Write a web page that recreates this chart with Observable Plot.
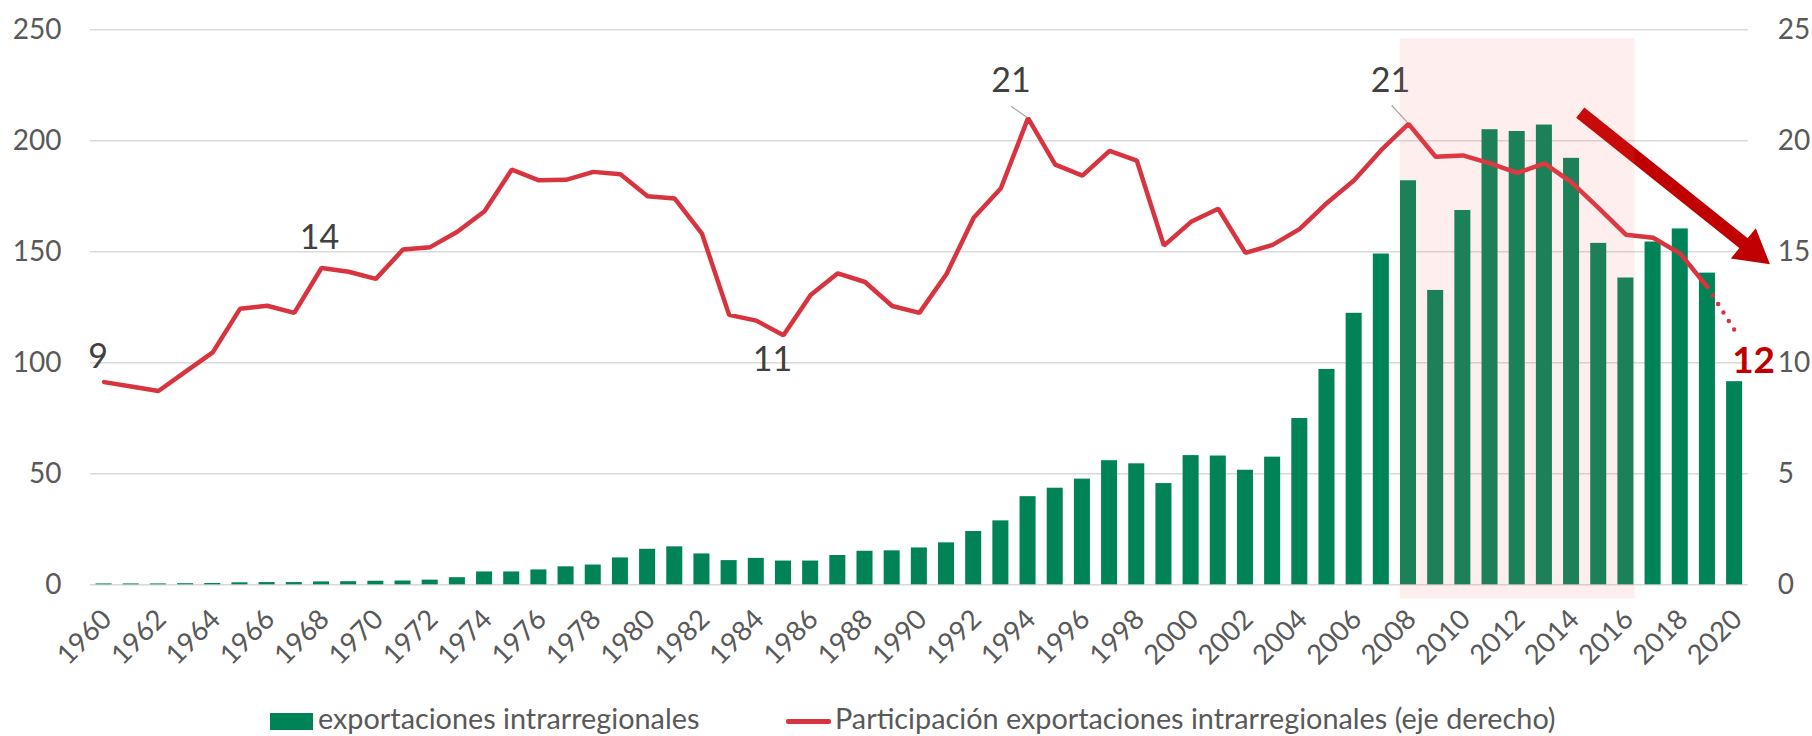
<!DOCTYPE html>
<html>
<head>
<meta charset="utf-8">
<script src="https://cdn.jsdelivr.net/npm/d3@7"></script>
<script src="https://cdn.jsdelivr.net/npm/@observablehq/plot@0.6"></script>
<style>
  html, body { margin: 0; padding: 0; background: #fff; }
  #wrap { position: relative; width: 1812px; height: 736px; overflow: hidden; font-family: Lato, "Open Sans", sans-serif; }
  .leg { position: absolute; display: flex; align-items: flex-start; height: 28px; line-height: 28px; font-size: 28.8px; color: #595959; white-space: nowrap; }
  .leg .sw { display: inline-block; flex: none; }
</style>
</head>
<body>
<div id="wrap"><div id="chart"></div></div>
<script>
// ---------- data ----------
const years = [1960,1961,1962,1963,1964,1965,1966,1967,1968,1969,
  1970,1971,1972,1973,1974,1975,1976,1977,1978,1979,
  1980,1981,1982,1983,1984,1985,1986,1987,1988,1989,
  1990,1991,1992,1993,1994,1995,1996,1997,1998,1999,
  2000,2001,2002,2003,2004,2005,2006,2007,2008,2009,
  2010,2011,2012,2013,2014,2015,2016,2017,2018,2019,2020];

// exportaciones intrarregionales (left axis)
const exportsValues = [0.4,0.4,0.4,0.5,0.6,0.9,1.0,1.0,1.3,1.4,
  1.6,1.7,2.1,3.2,5.8,5.8,6.7,8.1,8.9,12.1,
  16.0,17.1,13.9,10.9,11.9,10.7,10.7,13.2,15.1,15.3,
  16.6,18.9,24.0,28.8,39.7,43.5,47.6,55.9,54.5,45.6,
  58.2,58.0,51.6,57.5,74.9,97.0,122.3,149.0,182.0,132.6,
  168.6,205.0,204.2,207.1,192.1,153.8,138.2,154.4,160.3,140.4,91.5];

// Participación exportaciones intrarregionales, % (right axis)
const shareValues = [9.13,8.93,8.73,9.6,10.47,12.43,12.57,12.25,14.27,14.1,
  13.78,15.1,15.21,15.9,16.83,18.7,18.22,18.24,18.6,18.49,
  17.5,17.4,15.82,12.16,11.9,11.24,13.05,14.03,13.64,12.56,
  12.25,14.0,16.53,17.86,21.02,18.93,18.43,19.55,19.11,15.28,
  16.35,16.94,14.95,15.31,16.03,17.2,18.22,19.59,20.76,19.28,
  19.34,18.98,18.55,18.98,18.13,16.97,15.77,15.63,14.92,13.41,11.47];

const seriesNames = ["exportaciones intrarregionales", "Participación exportaciones intrarregionales (eje derecho)"];
const leftTicks = [0, 50, 100, 150, 200, 250];
const rightTickLabels = ["0", "5", "10", "15", "20", "25"];
const xTicks = [1960,1962,1964,1966,1968,1970,1972,1974,1976,1978,1980,1982,1984,1986,1988,1990,
  1992,1994,1996,1998,2000,2002,2004,2006,2008,2010,2012,2014,2016,2018,2020];

const labelYears = [1960, 1968, 1985, 1994, 2008];
const labelTexts = ["9", "14", "11", "21", "21"];
const lastLabel = "12";
const highlightYears = [2008, 2016];
const projectedFrom = 2019;

// ---------- styles / annotation geometry ----------
const GREEN = "#008457", RED = "#d8343f", DARKRED = "#c00000";
const labelOffsets = [[-6,-14],[-2,-19],[-11,36],[-17,-26],[-18,-32]];
const half = 0.295;                    // half bar width, in years
const rightFactor = 10;                // right axis (%) mapped onto the left scale
const leaders = [ {x1: 1994 - 0.62, y1: 215.5, x2: 1994 - 0.04, y2: 210.6},
                  {x1: 2008 - 0.62, y1: 215.9, x2: 2008 - 0.05, y2: 208.4} ];
const arrowShaft = {x1: 2014.32, y1: 212.7, x2: 2020.39, y2: 153.3};
const arrowHead = [{x: 2021.30, y: 144.4}, {x: 2019.86, y: 147.0}, {x: 2020.78, y: 160.6}];

const data = years.map((year, i) => ({year, exp: exportsValues[i], share: shareValues[i]}));
const solid = data.filter(d => d.year <= projectedFrom);
const dotted = data.filter(d => d.year >= projectedFrom);
const last = data[data.length - 1];

const H = 690, Y0 = 584.3;
const chart = Plot.plot({
  width: 1812,
  height: H,
  marginLeft: 90,
  marginRight: 64.3,
  marginTop: 29.3,
  marginBottom: H - Y0,
  x: {domain: [1959.5, 2020.5]},
  y: {domain: [0, 250]},
  style: {fontFamily: "Lato, 'Open Sans', sans-serif", background: "#fff", color: "#595959", overflow: "visible"},
  marks: [
    Plot.gridY(leftTicks, {stroke: "#d9d9d9", strokeOpacity: 1, strokeWidth: 1.5}),
    Plot.axisY(leftTicks, {anchor: "left", tickSize: 0, tickPadding: 29, fontSize: 28, fill: "#595959", label: null}),
    Plot.axisY(leftTicks, {anchor: "right", tickSize: 0, tickPadding: 29.5, fontSize: 28, fill: "#595959", label: null,
      tickFormat: d => rightTickLabels[leftTicks.indexOf(d)]}),
    Plot.axisX(xTicks, {anchor: "bottom", tickSize: 0, tickPadding: 30, dx: 3, tickRotate: -45, fontSize: 27.5, fill: "#595959",
      label: null, tickFormat: d => String(d)}),
    Plot.rectY(data, {x1: d => d.year - half, x2: d => d.year + half, y: "exp", fill: GREEN}),
    Plot.line(solid, {x: "year", y: d => d.share * rightFactor, stroke: RED, strokeWidth: 4.5, strokeLinejoin: "miter"}),
    Plot.line(dotted, {x: "year", y: d => d.share * rightFactor, stroke: RED, strokeWidth: 4.5,
      strokeDasharray: "0 10", strokeLinecap: "round"}),
    ...labelYears.map((yr, i) => {
      const d = data.find(e => e.year === yr);
      return Plot.text([d], {x: "year", y: e => e.share * rightFactor, text: () => labelTexts[i],
        dx: labelOffsets[i][0], dy: labelOffsets[i][1], lineAnchor: "bottom", fontSize: 34, fill: "#404040"});
    }),
    Plot.link(leaders, {x1: "x1", y1: "y1", x2: "x2", y2: "y2", stroke: "#a6a6a6", strokeWidth: 1.2}),
    Plot.text([last], {x: "year", y: e => e.share * rightFactor, text: () => lastLabel,
      dx: 19, dy: 43, lineAnchor: "bottom", fontSize: 37, fontWeight: "bold", fill: DARKRED}),
    Plot.link([arrowShaft], {x1: "x1", y1: "y1", x2: "x2", y2: "y2", stroke: DARKRED, strokeWidth: 13}),
    Plot.line(arrowHead, {x: "x", y: "y", fill: DARKRED, stroke: "none"}),
    Plot.rect([{a: highlightYears[0], b: highlightYears[1]}], {x1: d => d.a - half - 0.01, x2: d => d.b + half + 0.04,
      y1: -6.3, y2: 246, fill: "#ff6464", fillOpacity: 0.11})
  ]
});
const wrap = document.getElementById("wrap");
document.getElementById("chart").appendChild(chart);

// ---------- legend (below the SVG) ----------
const leg1 = document.createElement("div");
leg1.className = "leg";
leg1.style.left = "270px"; leg1.style.top = "704px";
leg1.innerHTML = `<span class="sw" style="width:43px;height:17px;margin-top:9px;background:${GREEN}"></span><span style="margin-left:5px">${seriesNames[0]}</span>`;
const leg2 = document.createElement("div");
leg2.className = "leg";
leg2.style.left = "786px"; leg2.style.top = "704px";
leg2.innerHTML = `<span class="sw" style="width:45px;height:5px;margin-top:14.5px;border-radius:2px;background:${RED}"></span><span style="margin-left:4px">${seriesNames[1]}</span>`;
wrap.appendChild(leg1);
wrap.appendChild(leg2);
</script>
</body>
</html>
